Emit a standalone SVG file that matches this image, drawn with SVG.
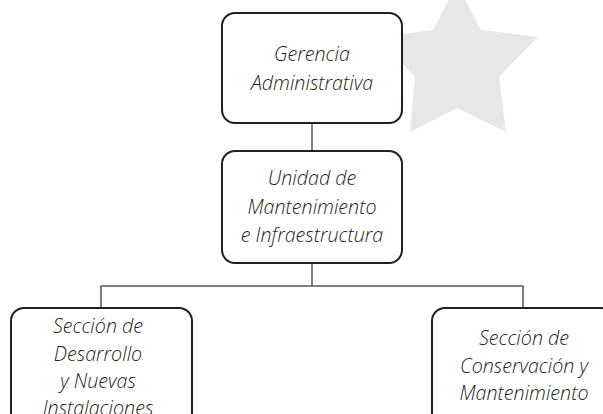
<svg xmlns="http://www.w3.org/2000/svg" width="603" height="414" viewBox="0 0 603 414">
<style>
.box{fill:#fff;stroke:#231f20;stroke-width:2}
.lbl{font-family:"Open Sans","Liberation Sans",sans-serif;font-style:italic;font-weight:300;font-size:19.7px;fill:#231f20;text-anchor:middle}
.con{fill:none;stroke:#555;stroke-width:1.5}
</style>
<rect width="603" height="414" fill="#fff"/>
<polygon points="457,-16 481,30 538,37 499,77 506,132 457,108 410,132 415,77 376,37 433,30" fill="#e6e7e8"/>
<g id="connectors">
<line class="con" x1="312" y1="123" x2="312" y2="151"/>
<polyline class="con" points="312,263 312,286"/>
<polyline class="con" points="101,308 101,286 523,286 523,308"/>
</g>
<g id="n1">
<rect class="box" x="222" y="13" width="180" height="110" rx="13"/>
<text class="lbl" x="312" y="61">Gerencia</text>
<text class="lbl" x="312" y="90">Administrativa</text>
</g>
<g id="n2">
<rect class="box" x="222" y="151" width="180" height="112" rx="13"/>
<text class="lbl" x="312" y="185">Unidad de</text>
<text class="lbl" x="312" y="214">Mantenimiento</text>
<text class="lbl" x="312" y="242">e Infraestructura</text>
</g>
<g id="n3">
<rect class="box" x="11" y="308" width="181" height="120" rx="13"/>
<text class="lbl" x="98" y="333">Sección de</text>
<text class="lbl" x="98" y="361">Desarrollo</text>
<text class="lbl" x="98" y="388">y Nuevas</text>
<text class="lbl" x="98" y="415">Instalaciones</text>
</g>
<g id="n4">
<rect class="box" x="432" y="308" width="182" height="120" rx="13"/>
<text class="lbl" x="524" y="345">Sección de</text>
<text class="lbl" x="524" y="373">Conservación y</text>
<text class="lbl" x="524" y="400">Mantenimiento</text>
</g>
</svg>
